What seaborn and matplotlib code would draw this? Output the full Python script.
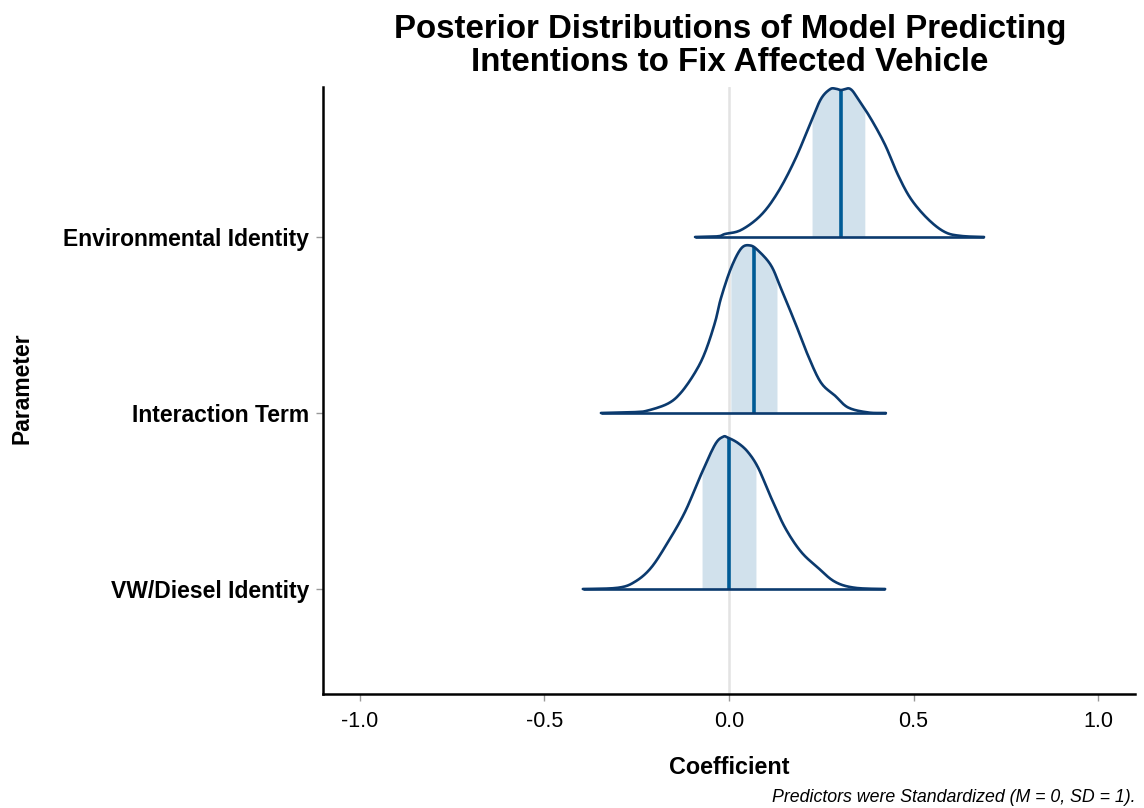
import numpy as np
import pandas as pd
import matplotlib
matplotlib.use("Agg")
import matplotlib.pyplot as plt
import seaborn as sns

# ---- data ----
parameters = ["VW/Diesel Identity", "Interaction Term", "Environmental Identity"]

env_x = [-0.092, -0.030, -0.011, 0.033, 0.087, 0.133, 0.179, 0.222, 0.249, 0.274, 0.290,
         0.304, 0.328, 0.350, 0.385, 0.423, 0.458, 0.493, 0.539, 0.585, 0.629, 0.691]
env_d = [0.0, 0.004, 0.017, 0.040, 0.125, 0.256, 0.440, 0.653, 0.784, 0.840, 0.842,
         0.835, 0.842, 0.784, 0.670, 0.523, 0.352, 0.216, 0.102, 0.028, 0.006, 0.0]

int_x = [-0.347, -0.255, -0.220, -0.165, -0.130, -0.092, -0.065, -0.038, -0.022, 0.005, 0.033,
         0.057, 0.079, 0.114, 0.141, 0.179, 0.214, 0.249, 0.287, 0.323, 0.377, 0.425]
int_d = [0.0, 0.005, 0.014, 0.054, 0.116, 0.230, 0.344, 0.514, 0.651, 0.821, 0.935,
         0.952, 0.923, 0.838, 0.707, 0.514, 0.327, 0.173, 0.099, 0.031, 0.003, 0.0]

vw_x = [-0.396, -0.301, -0.255, -0.211, -0.165, -0.119, -0.076, -0.038, -0.016, -0.003, 0.024,
        0.051, 0.079, 0.114, 0.152, 0.195, 0.241, 0.287, 0.341, 0.423]
vw_d = [0.0, 0.007, 0.041, 0.121, 0.268, 0.439, 0.649, 0.820, 0.865, 0.860, 0.830,
        0.779, 0.689, 0.519, 0.348, 0.212, 0.121, 0.041, 0.007, 0.0]

medians = [0.000, 0.068, 0.303]
band_lo = [-0.073, 0.005, 0.225]
band_hi = [0.073, 0.130, 0.368]

x_ticks = [-1.0, -0.5, 0.0, 0.5, 1.0]
x_tick_labels = ["-1.0", "-0.5", "0.0", "0.5", "1.0"]

curves_x = [vw_x, int_x, env_x]
curves_d = [vw_d, int_d, env_d]


def smooth_path(xs, ys, n=12):
    """Catmull-Rom spline through the read points (drawing only)."""
    p = np.column_stack([xs, ys]).astype(float)
    p = np.vstack([p[0], p, p[-1]])
    out = []
    t = np.linspace(0, 1, n, endpoint=False)
    for k in range(1, len(p) - 2):
        p0, p1, p2, p3 = p[k - 1], p[k], p[k + 1], p[k + 2]
        tt = t[:, None]
        seg = 0.5 * ((2 * p1) + (-p0 + p2) * tt + (2 * p0 - 5 * p1 + 4 * p2 - p3) * tt ** 2
                     + (-p0 + 3 * p1 - 3 * p2 + p3) * tt ** 3)
        out.append(seg)
    out.append(p[-2][None, :])
    out = np.vstack(out)
    out[:, 1] = np.clip(out[:, 1], 0, None)
    return out[:, 0], out[:, 1]


# ---- styling ----
sns.set_theme(style="white")
plt.rcParams['font.family'] = ['Liberation Sans', 'DejaVu Sans']

OUTLINE = "#0b3a6e"
MEDIAN = "#005b96"
FILL = "#d1e1ec"

fig = plt.figure(figsize=(11.44, 8.08), dpi=100)
ax = fig.add_axes([323/1144, 1 - 694/808, (1135 - 323)/1144, (694 - 87)/808])

ax.axvline(0, color="#e3e3e3", lw=1.8, zorder=0)

rows = []
smoothed = []
for i, (name, xs, ds) in enumerate(zip(parameters, curves_x, curves_d)):
    base = i + 1
    sx, sd = smooth_path(xs, ds)
    smoothed.append((sx, sd))
    for xv, dv in zip(sx, sd):
        rows.append({"parameter": name, "x": xv, "y": base + dv})
df = pd.DataFrame(rows)

for i, name in enumerate(parameters):
    base = i + 1
    sx, sd = smoothed[i]
    grid = np.linspace(band_lo[i], band_hi[i], 300)
    ax.fill_between(grid, base, base + np.interp(grid, sx, sd), color=FILL, lw=0, zorder=1)
    ax.plot([sx[0], sx[-1]], [base, base], color=OUTLINE, lw=1.9, zorder=3, solid_capstyle="butt")
    ax.plot([medians[i], medians[i]], [base, base + np.interp(medians[i], sx, sd)],
            color=MEDIAN, lw=2.6, zorder=2, solid_capstyle="butt")
    sub = df[df["parameter"] == name]
    sns.lineplot(data=sub, x="x", y="y", sort=False, estimator=None, color=OUTLINE,
                 lw=1.9, ax=ax, zorder=4)

ax.set_xlim(-1.1, 1.1)
ax.set_ylim(1 - 105/176, 3 + 150/176)
ax.set_xticks(x_ticks)
ax.set_xticklabels(x_tick_labels, fontsize=15.5, color="black")
ax.set_yticks([1, 2, 3])
ax.set_yticklabels(parameters, fontsize=16.5, fontweight="bold", color="black")
ax.tick_params(axis="both", which="both", length=5, width=1, color="#999999",
               bottom=True, left=True)
ax.tick_params(axis="x", pad=7)
ax.tick_params(axis="y", pad=5)

for s in ["top", "right"]:
    ax.spines[s].set_visible(False)
for s in ["left", "bottom"]:
    ax.spines[s].set_color("black")
    ax.spines[s].set_linewidth(1.8)

ax.set_xlabel("")
ax.set_ylabel("")
fig.text(729/1144, 1 - 768/808, "Coefficient", ha="center", va="center",
         fontsize=16.8, fontweight="bold", color="black")
fig.text(22/1144, 1 - 388/808, "Parameter", ha="center", va="center", rotation=90,
         fontsize=16.5, fontweight="bold", color="black")
fig.text(730/1144, 1 - 46/808, "Posterior Distributions of Model Predicting\nIntentions to Fix Affected Vehicle",
         ha="center", va="center", fontsize=23.8, fontweight="bold", color="black", linespacing=1.1)
fig.text(1135/1144, 1 - 797/808, "Predictors were Standardized (M = 0, SD = 1).",
         ha="right", va="center", fontsize=12.8, style="italic", color="black")

fig.savefig("out.png", dpi=100)
